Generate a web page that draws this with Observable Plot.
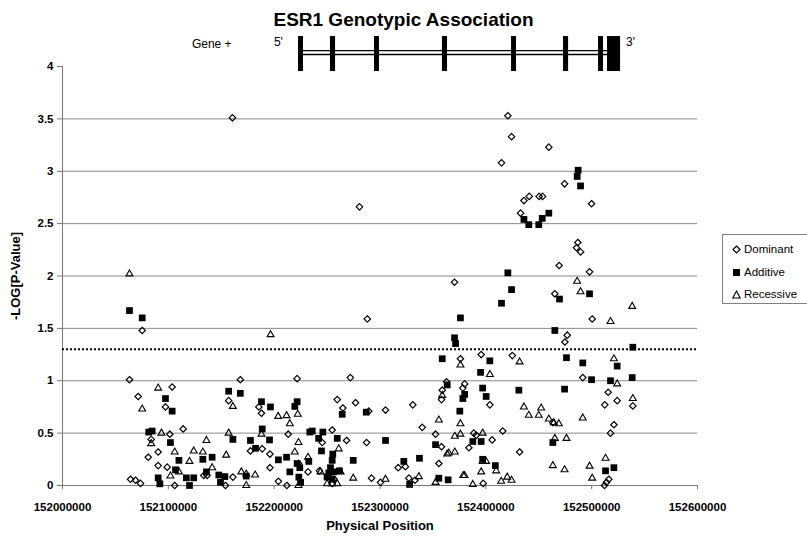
<!DOCTYPE html>
<html><head><meta charset="utf-8">
<script src="https://cdn.jsdelivr.net/npm/d3@7"></script>
<script src="https://cdn.jsdelivr.net/npm/@observablehq/plot@0.6"></script>
<style>
body{margin:0;background:#fff;font-family:"Liberation Sans",Arial,sans-serif;}
#wrap{position:relative;width:807px;height:538px;overflow:hidden;background:#fff;}
#wrap svg{position:absolute;left:0;top:0;}
#title{position:absolute;left:0;top:9px;width:807px;text-align:center;font-weight:bold;font-size:19px;line-height:22px;color:#000;}
#legend{position:absolute;left:722px;top:234px;width:110px;height:68px;border:1px solid #808080;background:#fff;font-size:11.5px;color:#000;}
#legend .row{position:absolute;left:9px;height:16px;line-height:16px;white-space:nowrap;}
#legend svg{position:static;vertical-align:middle;margin-right:3px;}
</style></head>
<body>
<div id="wrap"><div id="title">ESR1 Genotypic Association</div><div id="legend"></div></div>
<script>
// ---- axis ticks ----
const xTicks = [152000000,152100000,152200000,152300000,152400000,152500000,152600000];
const yTicks = [0,0.5,1,1.5,2,2.5,3,3.5,4];
const gridLines = [0.5,1,1.5,2,2.5,3,3.5];
const threshold = 1.30103; // -log10(0.05)

// ---- gene structure (exons) ----
const exonStart = [152223000,152253200,152294800,152359000,152424300,152473400,152506500,152515000];
const exonEnd   = [152227700,152258000,152299500,152363800,152429000,152478200,152511200,152527300];
const geneStart = 152223000;
const geneEnd = 152527300;

// ---- series ----
const seriesNames = ["Dominant","Additive","Recessive"];

const domPos = [152160600,152280600,152420800,152424300,152459500,152414800,152474400,152499900,152436000,152441000,152450400,152453600,152432800,152486900,152485700,152489500,152469300,152498000,152465200,152500500,152370400,152288000,152272000,152376000,152395600,152425000,152362900,152358800,152358100,152380000,152378300,152403800,152259600,152276900,152264900,152289400,152305200,152331000,152339900,152352500,152254800,152268400,152287300,152245400,152388600,152391000,152406000,152416000,152431900,152358100,152384000,152355600,152317200,152324000,152292000,152300500,152327300,152333000,152397500,152242800,152256700,152254800,152476900,152474700,152491600,152515600,152524100,152512400,152538900,152521000,152517800,152516200,152514000,152512100,152463300,152075300,152063300,152168000,152221700,152071500,152103600,152097300,152157000,152185500,152188000,152114000,152101400,152083800,152090400,152081000,152090400,152098900,152213300,152177600,152188700,152196000,152196000,152064300,152069000,152073700,152106000,152133500,152136700,152154000,152161000,152204000,152212000,152223000,152232000];
const domVal = [3.51,2.66,3.53,3.33,3.23,3.08,2.88,2.69,2.72,2.76,2.76,2.76,2.60,2.32,2.27,2.23,2.10,2.04,1.83,1.59,1.94,1.59,1.03,1.21,1.25,1.24,0.99,0.91,0.82,0.97,0.93,0.77,0.82,0.79,0.74,0.71,0.72,0.77,0.555,0.49,0.53,0.43,0.41,0.41,0.50,0.48,0.435,0.52,0.32,0.37,0.36,0.21,0.17,0.18,0.07,0.03,0.07,0.05,0.02,0.14,0.06,0.02,1.435,1.37,1.03,0.89,0.81,0.77,0.76,0.58,0.50,0.06,0.03,0.00,0.60,1.48,1.01,1.01,1.02,0.85,0.94,0.75,0.81,0.75,0.69,0.54,0.49,0.44,0.32,0.27,0.19,0.175,0.49,0.33,0.35,0.30,0.17,0.06,0.05,0.02,0.00,0.095,0.095,0.00,0.08,0.04,0.00,0.21,0.13];

const addPos = [152063300,152075300,152097300,152103600,152157000,152168000,152188000,152196500,152219500,152221700,152081500,152084700,152102000,152161000,152177600,152195600,152188700,152182400,152110000,152106800,152132600,152141400,152136000,152117000,152124000,152120000,152090400,152092000,152147700,152153400,152149300,152173600,152204000,152211700,152214800,152221700,152224200,152223300,152225000,152232700,152233700,152420800,152424300,152414800,152376000,152370400,152371400,152358800,152403800,152395000,152363500,152397000,152400300,152380000,152378300,152375400,152431200,152264300,152287000,152236000,152246000,152242000,152259600,152244700,152255400,152254800,152253200,152251600,152250000,152256400,152261700,152254800,152274700,152305200,152322500,152337300,152328000,152352500,152387700,152395600,152397000,152409000,152355600,152364400,152487200,152486300,152489500,152436000,152440600,152450000,152453300,152459500,152469600,152498000,152465200,152476200,152491600,152524100,152538900,152499900,152517800,152538300,152474400,152463300,152513100,152521000];
const addVal = [1.67,1.60,0.83,0.71,0.90,0.88,0.80,0.75,0.755,0.80,0.51,0.52,0.41,0.44,0.43,0.435,0.54,0.355,0.24,0.15,0.25,0.27,0.13,0.073,0.073,0.00,0.073,0.016,0.10,0.085,0.03,0.09,0.245,0.27,0.13,0.21,0.17,0.08,0.03,0.23,0.51,2.03,1.87,1.74,1.60,1.41,1.355,1.21,1.19,1.08,0.96,0.93,0.85,0.87,0.83,0.71,0.91,0.68,0.70,0.52,0.51,0.45,0.45,0.33,0.30,0.24,0.17,0.12,0.08,0.13,0.14,0.06,0.24,0.43,0.23,0.26,0.01,0.39,0.42,0.42,0.25,0.19,0.07,0.054,3.01,2.95,2.86,2.54,2.49,2.49,2.55,2.60,1.78,1.83,1.48,1.22,1.17,1.14,1.32,1.01,1.00,1.03,0.92,0.41,0.14,0.17];

const recPos = [152063300,152196600,152090400,152075300,152161000,152203800,152211700,152214800,152222300,152093500,152083800,152106000,152124000,152136000,152132600,152154700,152157000,152120000,152110000,152102000,152141400,152169000,152173600,152182000,152173600,152219500,152223000,152232000,152223000,152188000,152376000,152403800,152431900,152358800,152355600,152376000,152370700,152376000,152397000,152436000,152440600,152450000,152452300,152459500,152363500,152365000,152370700,152397000,152400300,152409800,152395600,152378600,152379900,152387700,152414500,152420200,152424300,152352500,152336700,152305200,152274700,152261000,152262700,152243800,152250000,152254800,152259600,152486300,152489500,152538300,152517800,152521000,152524100,152538900,152464300,152469000,152491600,152465200,152476200,152463300,152474400,152498000,152513100,152500500];
const recVal = [2.02,1.44,0.93,0.73,0.755,0.66,0.667,0.59,0.68,0.50,0.40,0.32,0.33,0.43,0.32,0.29,0.50,0.23,0.13,0.09,0.17,0.13,0.11,0.10,0.00,0.32,0.41,0.27,0.00,0.49,1.15,1.06,1.18,0.86,0.625,0.59,0.47,0.49,0.50,0.75,0.67,0.67,0.74,0.635,0.30,0.31,0.32,0.23,0.23,0.14,0.13,0.095,0.095,0.01,0.04,0.08,0.05,0.03,0.085,0.06,0.07,0.35,0.13,0.13,0.016,0.016,0.016,1.95,1.85,1.71,1.565,1.21,0.97,0.83,0.60,0.59,0.645,0.45,0.45,0.19,0.15,0.185,0.26,0.07];

const toRows = (p, v) => p.map((x, i) => ({x, y: v[i]}));
const dom = toRows(domPos, domVal);
const add = toRows(addPos, addVal);
const rec = toRows(recPos, recVal);
const exons = exonStart.map((s, i) => ({x1: s, x2: exonEnd[i]}));

const font = '"Liberation Sans", Arial, sans-serif';

const chart = Plot.plot({
  width: 807,
  height: 538,
  marginLeft: 62,
  marginRight: 110,
  marginTop: 66,
  marginBottom: 53,
  style: {fontFamily: font, background: "transparent", overflow: "visible"},
  x: {domain: [152000000, 152600000]},
  y: {domain: [0, 4]},
  marks: [
    Plot.ruleY(gridLines, {stroke: "#8a8a8a", strokeWidth: 1}),
    Plot.ruleX([xTicks[0]], {stroke: "#777", strokeWidth: 1}),
    Plot.ruleY([0], {stroke: "#777", strokeWidth: 1}),
    Plot.axisX({ticks: xTicks, tickFormat: d3.format("d"), tickSize: 4, tickPadding: 13, fontSize: 11.5, fontWeight: "bold", stroke: "#777", label: null, fill: "#000"}),
    Plot.axisY({ticks: yTicks, tickFormat: d => String(d), tickSize: 5, tickPadding: 4, fontSize: 11.5, fontWeight: "bold", stroke: "#777", label: null, fill: "#000"}),
    Plot.text(["Physical Position"], {frameAnchor: "bottom", dy: 40, lineAnchor: "middle", fontSize: 13, fontWeight: "bold", fill: "#000"}),
    Plot.text(["-LOG[P-Value]"], {frameAnchor: "left", dx: -47, rotate: -90, textAnchor: "middle", lineAnchor: "middle", fontSize: 13, fontWeight: "bold", fill: "#000"}),
    Plot.ruleY([threshold], {stroke: "#000", strokeWidth: 2, strokeDasharray: "2,2"}),
    // gene diagram
    Plot.ruleY([4.114, 4.152], {x1: geneStart, x2: geneEnd, stroke: "#000", strokeWidth: 1.4}),
    Plot.rect(exons, {x1: "x1", x2: "x2", y1: 3.952, y2: 4.286, fill: "#000"}),
    Plot.text(["Gene +"], {x: 152141000, y: 4.21, fontSize: 12, fill: "#000"}),
    Plot.text(["5'"], {x: 152204000, y: 4.235, fontSize: 12, fill: "#000"}),
    Plot.text(["3'"], {x: 152536700, y: 4.235, fontSize: 12, fill: "#000"}),
    // series
    Plot.dot(dom, {x: "x", y: "y", symbol: "diamond2", r: 2.9, stroke: "#000", strokeWidth: 1.2, fill: "none"}),
    Plot.dot(add, {x: "x", y: "y", symbol: "square", r: 3.8, fill: "#000", stroke: "none"}),
    Plot.dot(rec, {x: "x", y: "y", symbol: "triangle2", r: 3.3, stroke: "#000", strokeWidth: 1.1, fill: "none"})
  ]
});
document.getElementById("wrap").insertBefore(chart, document.getElementById("title"));

// legend
const icons = {
  Dominant: '<svg width="9" height="9"><path d="M4.5 1 L8 4.5 L4.5 8 L1 4.5 Z" fill="none" stroke="#000" stroke-width="1.2"/></svg>',
  Additive: '<svg width="9" height="9"><rect x="1" y="1" width="7" height="7" fill="#000"/></svg>',
  Recessive: '<svg width="9" height="9"><path d="M4.5 1 L8.2 8 L0.8 8 Z" fill="none" stroke="#000" stroke-width="1.1"/></svg>'
};
const legend = document.getElementById("legend");
const rowTops = [6, 29, 51];
seriesNames.forEach((n, i) => {
  const r = document.createElement("div");
  r.className = "row";
  r.style.top = rowTops[i] + "px";
  r.innerHTML = icons[n] + n;
  legend.appendChild(r);
});
</script>
</body></html>
